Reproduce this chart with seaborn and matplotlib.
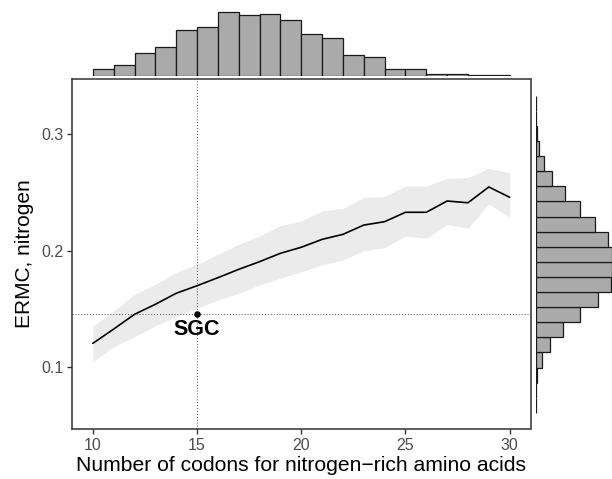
import numpy as np
import pandas as pd
import matplotlib
matplotlib.use("Agg")
import matplotlib.pyplot as plt
import seaborn as sns

sns.set_theme(style="white")
plt.rcParams['font.family'] = ['Liberation Sans', 'DejaVu Sans']

# ---- data ----
n_codons = [10, 11, 12, 13, 14, 15, 16, 17, 18, 19, 20,
            21, 22, 23, 24, 25, 26, 27, 28, 29, 30]
ermc_mean = [0.1201, 0.1324, 0.1451, 0.1537, 0.1632, 0.1697, 0.1766, 0.1838,
             0.1904, 0.1976, 0.2028, 0.2096, 0.2139, 0.2219, 0.2248, 0.2329,
             0.2329, 0.2426, 0.2411, 0.2547, 0.2458]
ermc_upper = [0.1350, 0.1480, 0.1623, 0.1709, 0.1812, 0.1881, 0.1967, 0.2053,
              0.2125, 0.2214, 0.2254, 0.2340, 0.2363, 0.2455, 0.2466, 0.2555,
              0.2555, 0.2621, 0.2627, 0.2707, 0.2667]
ermc_lower = [0.1043, 0.1172, 0.1258, 0.1353, 0.1430, 0.1502, 0.1574, 0.1632,
              0.1703, 0.1761, 0.1818, 0.1875, 0.1918, 0.1998, 0.2024, 0.2125,
              0.2105, 0.2225, 0.2191, 0.2400, 0.2286]

sgc_x = 15
sgc_y = 0.145
sgc_label = "SGC"

# marginal histogram of x (bins of width 1 from 10 to 30)
x_bin_lo, x_bin_hi = 10, 30
x_counts = [20, 32, 67, 87, 137, 147, 192, 183, 184, 167,
            126, 114, 61, 57, 20, 19, 4, 4, 1, 1]
# marginal histogram of y (ascending)
y_bin_lo, y_bin_hi = 0.0603, 0.3332
y_counts = [1, 2, 6, 20, 45, 83, 134, 187, 226, 229, 229,
            218, 180, 135, 89, 51, 26, 11, 5, 2, 1]

x_ticks = [10, 15, 20, 25, 30]
y_ticks = [0.1, 0.2, 0.3]
x_label = "Number of codons for nitrogen\u2212rich amino acids"
y_label = "ERMC, nitrogen"

df = pd.DataFrame({"n": n_codons, "mean": ermc_mean,
                   "lo": ermc_lower, "hi": ermc_upper})

# ---- figure ----
W, H = 612, 479
fig = plt.figure(figsize=(W / 100, H / 100), dpi=100)

def rect(x0, y0, x1, y1):
    return [x0 / W, 1 - y1 / H, (x1 - x0) / W, (y1 - y0) / H]

ax = fig.add_axes(rect(72, 79, 530.5, 429))
ax_top = fig.add_axes(rect(72, 0, 530.5, 75.5))
ax_right = fig.add_axes(rect(535.5, 79, 612, 429))

xlim = (9, 31)
ylim = (0.0464, 0.3476)

# ribbon + line
ax.fill_between(df["n"], df["lo"], df["hi"], color="#EBEBEB", lw=0, zorder=1)
sns.lineplot(data=df, x="n", y="mean", ax=ax, color="black", lw=1.2, zorder=3)

# reference lines
ax.axhline(sgc_y, color="#555555", lw=0.7, ls=(0, (1, 2)), zorder=2)
ax.axvline(sgc_x, color="#555555", lw=0.7, ls=(0, (1, 2)), zorder=2)
sns.scatterplot(x=[sgc_x], y=[sgc_y], ax=ax, color="black", s=22,
                edgecolor="black", linewidth=0, zorder=4)
ax.text(sgc_x, sgc_y - 0.0042, sgc_label, ha="center", va="top",
        fontsize=15.5, fontweight="bold", color="black", zorder=5)

ax.set_xlim(*xlim)
ax.set_ylim(*ylim)
ax.set_xticks(x_ticks)
ax.set_yticks(y_ticks)
ax.set_xticklabels([str(t) for t in x_ticks])
ax.set_yticklabels([f"{t:.1f}" for t in y_ticks])
ax.set_xlabel(x_label, fontsize=15.2, color="black", labelpad=2)
ax.set_ylabel(y_label, fontsize=15, color="black", labelpad=5)
ax.tick_params(axis="both", which="major", length=3.8, width=1.0,
               color="#333333", labelsize=11.5, labelcolor="#4D4D4D",
               pad=2.5, bottom=True, left=True)
for sp in ax.spines.values():
    sp.set_visible(True)
    sp.set_color("#333333")
    sp.set_linewidth(1.1)
ax.grid(False)

# top marginal histogram
x_width = (x_bin_hi - x_bin_lo) / len(x_counts)
x_centers = x_bin_lo + x_width * (np.arange(len(x_counts)) + 0.5)
dfx = pd.DataFrame({"c": x_centers, "w": x_counts})
sns.histplot(data=dfx, x="c", weights="w", binwidth=x_width,
             binrange=(x_bin_lo, x_bin_hi), ax=ax_top,
             color="#AAAAAA", edgecolor="#1A1A1A", linewidth=0.9, alpha=1)
ax_top.set_xlim(*xlim)
ax_top.set_ylim(0, max(x_counts) * 75.5 / 64)
ax_top.axis("off")

# right marginal histogram
y_width = (y_bin_hi - y_bin_lo) / len(y_counts)
y_centers = y_bin_lo + y_width * (np.arange(len(y_counts)) + 0.5)
dfy = pd.DataFrame({"c": y_centers, "w": y_counts})
sns.histplot(data=dfy, y="c", weights="w", binwidth=y_width,
             binrange=(y_bin_lo, y_bin_hi), ax=ax_right,
             color="#AAAAAA", edgecolor="#1A1A1A", linewidth=0.9, alpha=1)
ax_right.set_ylim(*ylim)
ax_right.set_xlim(0, max(y_counts) * 1.003)
ax_right.axis("off")

fig.savefig("out.png", dpi=100)
